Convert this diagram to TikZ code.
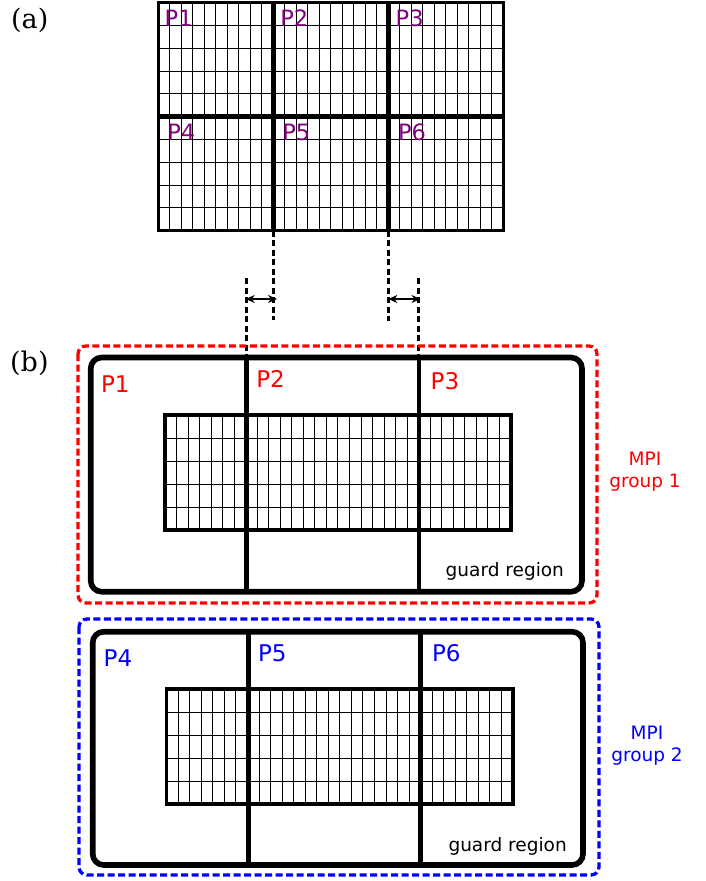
\documentclass[tikz,border=0pt]{standalone}
\usepackage{fontspec}
\setmainfont{DejaVu Sans}
\newfontfamily\panelserif{DejaVu Serif}
\usetikzlibrary{arrows.meta}
\definecolor{labpurple}{RGB}{128,0,128}
\begin{document}
\begin{tikzpicture}[x=1pt,y=-1pt,
  thinline/.style={line width=1pt},
  gborder/.style={line width=3.1pt},
  sepline/.style={line width=4.6pt},
  procbox/.style={line width=5.6pt, rounded corners=11pt},
  grpbox/.style={line width=3.3pt, dash pattern=on 7pt off 3.5pt, rounded corners=8pt},
  guide/.style={line width=3.3pt, dash pattern=on 6pt off 3.5pt},
  dimarrow/.style={{Stealth[length=9pt,width=8pt]}-{Stealth[length=9pt,width=8pt]}, line width=2.4pt},
  plab/.style={inner sep=0pt, anchor=base west, font=\fontsize{23}{27}\selectfont},
  toplab/.style={inner sep=0pt, anchor=base west, text=labpurple, font=\fontsize{22.5}{26}\selectfont},
  guardlab/.style={inner sep=0pt, anchor=base west, font=\fontsize{18.5}{22}\selectfont},
  mpilab/.style={inner sep=0pt, anchor=north, align=center, font=\fontsize{18.5}{22.3}\selectfont},
  panellab/.style={inner sep=0pt, anchor=base west, font=\panelserif\fontsize{27}{31}\selectfont}
]
\useasboundingbox (0,0) rectangle (706,881);

% ---------------- (a) top grid ----------------
\foreach \i in {1,...,29} \draw[thinline] ({158.3+11.5*\i},2.7) -- ++(0,228);
\foreach \j in {1,...,9} \draw[thinline] (158.3,{2.7+22.8*\j}) -- ++(345,0);
\coordinate (ta-nw) at (158.3,2.7);
\coordinate (ta-se) at (503.3,230.7);
\coordinate (ta-s1) at (273.3,230.7);
\coordinate (ta-s2) at (388.3,230.7);
\draw[sepline] (273.3,2.7) -- (ta-s1);
\draw[sepline] (388.3,2.7) -- (ta-s2);
\draw[sepline] (158.3,116.7) -- (503.3,116.7);
\draw[gborder] (ta-nw) rectangle (ta-se);

\node[toplab] (tP1) at (164.5,26) {P1};
\node[toplab] (tP2) at (280.1,26) {P2};
\node[toplab] (tP3) at (395.5,26) {P3};
\node[toplab] (tP4) at (167.1,140.7) {P4};
\node[toplab] (tP5) at (282.1,140.7) {P5};
\node[toplab] (tP6) at (397.8,140.7) {P6};

\node[panellab] (la) at (11,28.3) {(a)};
\node[panellab] (lb) at (10,371.7) {(b)};

% ---------------- guides ----------------
\coordinate (gd1) at (273.3,320);
\coordinate (gd2) at (388.3,320.7);
\coordinate (gu1) at (246.2,278);
\coordinate (gu2) at (418.8,278);
\coordinate (gb1) at (246.2,357.5);
\coordinate (gb2) at (418.8,357.5);
\draw[guide] (ta-s1) -- (gd1);
\draw[guide] (ta-s2) -- (gd2);
\draw[guide] (gu1) -- (gb1);
\draw[guide] (gu2) -- (gb2);
\coordinate (ar1a) at (245.7,299);
\coordinate (ar1b) at (277,299);
\coordinate (ar2a) at (388.3,299);
\coordinate (ar2b) at (420.5,299);
\draw[dimarrow] (ar1a) -- (ar1b);
\draw[dimarrow] (ar2a) -- (ar2b);

% ---------------- (b) group 1 ----------------
\foreach \i in {1,...,29} \draw[thinline] ({165+11.533*\i},415) -- ++(0,115);
\foreach \j in {1,...,4} \draw[thinline] (165,{415+23*\j}) -- ++(346,0);
\draw[gborder] (165,415) rectangle (511,530);
\coordinate (b1-s1) at (246.2,591.7);
\coordinate (b1-s2) at (418.8,591.7);
\draw[sepline] (gb1) -- (b1-s1);
\draw[sepline] (gb2) -- (b1-s2);
\draw[procbox] (90.7,357.5) rectangle (582,591.7);
\draw[grpbox, red] (78,346) rectangle (597,603);

\node[plab, text=red] (P1) at (100.8,392) {P1};
\node[plab, text=red] (P2) at (256.1,387.3) {P2};
\node[plab, text=red] (P3) at (430.5,389) {P3};
\node[guardlab] (gr1) at (445.5,576.7) {guard region};
\node[mpilab, text=red] (mpi1) at (645,452) {MPI\\group 1};

% ---------------- (b) group 2 ----------------
\foreach \i in {1,...,29} \draw[thinline] ({166.7+11.543*\i},689) -- ++(0,115);
\foreach \j in {1,...,4} \draw[thinline] (166.7,{689+23*\j}) -- ++(346.3,0);
\draw[gborder] (166.7,689) rectangle (513,804);
\coordinate (b2-n1) at (248.3,631.7);
\coordinate (b2-n2) at (420.7,631.7);
\coordinate (b2-s1) at (248.3,865);
\coordinate (b2-s2) at (420.7,865);
\draw[sepline] (b2-n1) -- (b2-s1);
\draw[sepline] (b2-n2) -- (b2-s2);
\draw[procbox] (92.7,631.7) rectangle (583,865);
\draw[grpbox, blue] (79,619) rectangle (599,875);

\node[plab, text=blue] (P4) at (103.5,666) {P4};
\node[plab, text=blue] (P5) at (257.8,661) {P5};
\node[plab, text=blue] (P6) at (431.8,661.7) {P6};
\node[guardlab] (gr2) at (448.3,851.7) {guard region};
\node[mpilab, text=blue] (mpi2) at (647,726) {MPI\\group 2};
\end{tikzpicture}
\end{document}
